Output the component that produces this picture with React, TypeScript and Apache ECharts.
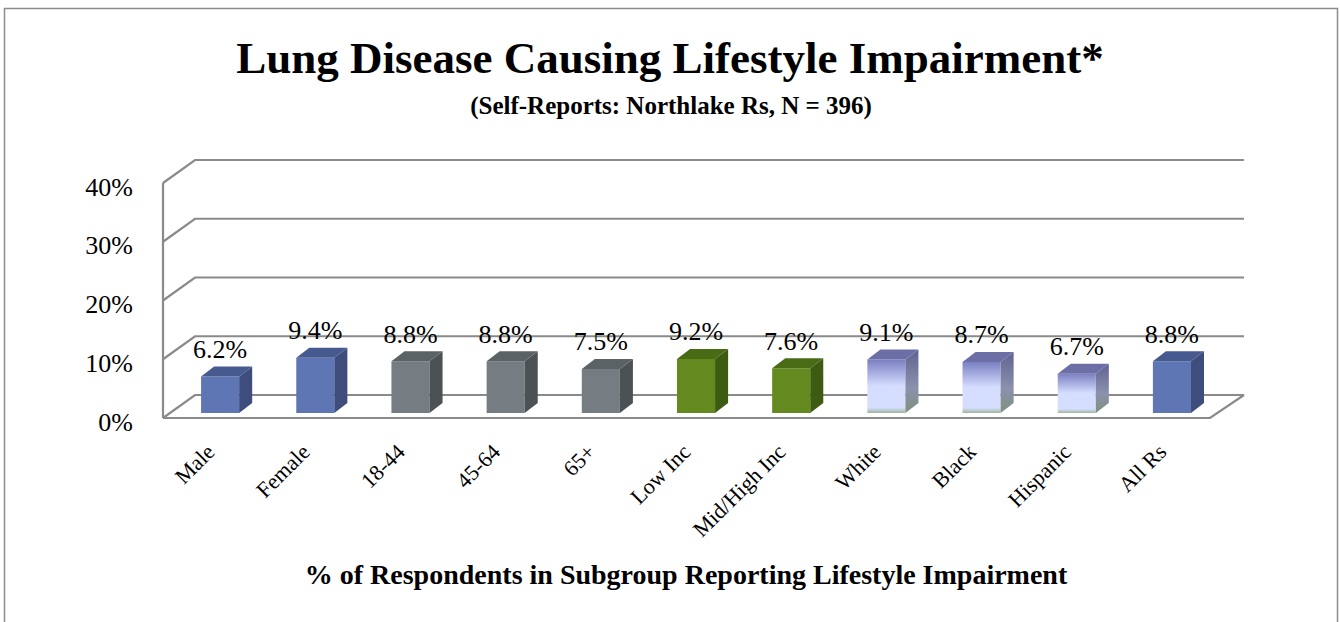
import React, { useEffect, useRef } from "react";
import * as echarts from "echarts";

const categories = ["Male", "Female", "18-44", "45-64", "65+", "Low Inc", "Mid/High Inc", "White", "Black", "Hispanic", "All Rs"];
const values = [6.2, 9.4, 8.8, 8.8, 7.5, 9.2, 7.6, 9.1, 8.7, 6.7, 8.8];
const groups = ["blue", "blue", "gray", "gray", "gray", "green", "green", "light", "light", "light", "blue"];
const yTicks = [0, 10, 20, 30, 40];

const titleText = "Lung Disease Causing Lifestyle Impairment*";
const subtitleText = "(Self-Reports: Northlake Rs, N = 396)";
const axisTitleText = "% of Respondents in Subgroup Reporting Lifestyle Impairment";

const FAMILY = "Liberation Serif";

const lightFront = {
  type: "linear", x: 0, y: 0, x2: 0, y2: 1,
  colorStops: [
    { offset: 0, color: "#7a7fc2" },
    { offset: 0.5, color: "#d6deff" },
    { offset: 0.9, color: "#d6deff" },
    { offset: 1, color: "#9fb59c" },
  ],
};
const lightSide = {
  type: "linear", x: 0, y: 0, x2: 0, y2: 1,
  colorStops: [
    { offset: 0, color: "#5f6291" },
    { offset: 0.6, color: "#8b91ad" },
    { offset: 1, color: "#7e917d" },
  ],
};

const palette: Record<string, { front: any; side: any; top: any }> = {
  blue: { front: "#5e76b4", side: "#3e4d7c", top: "#475a8f" },
  gray: { front: "#757d82", side: "#4c5254", top: "#5b6265" },
  green: { front: "#63891f", side: "#3e5b12", top: "#4a6b16" },
  light: { front: lightFront, side: lightSide, top: "#6c6ea6" },
};

const GRID_COLOR = "#8a8a8a";
const DEPTH_X = 32;
const DEPTH_Y = -23;

export default function App() {
  const ref = useRef<HTMLDivElement>(null);

  useEffect(() => {
    if (!ref.current) return;
    const chart = echarts.init(ref.current, null, { renderer: "svg" });

    const wallsRender = (params: any, api: any) => {
      const v = api.value(0);
      const cs = params.coordSys;
      const x0 = cs.x;
      const x1 = cs.x + cs.width;
      const y = api.coord([0, v])[1];
      const style = { stroke: GRID_COLOR, lineWidth: 2.2, fill: null };
      const children: any[] = [
        {
          type: "polyline",
          shape: { points: [[x0, y], [x0 + DEPTH_X, y + DEPTH_Y], [x1 + DEPTH_X + 2, y + DEPTH_Y]] },
          style,
        },
      ];
      if (v === 0) {
        children.push({
          type: "polyline",
          shape: { points: [[x0, y], [x1, y], [x1 + DEPTH_X + 2, y + DEPTH_Y]] },
          style,
        });
        children.push({
          type: "line",
          shape: { x1: x0, y1: y, x2: x0, y2: cs.y },
          style,
        });
      }
      return { type: "group", children };
    };

    const barsRender = (params: any, api: any) => {
      const idx = api.value(0);
      const v = api.value(1);
      const top = api.coord([idx, v]);
      const base = api.coord([idx, 0]);
      const bw = api.size([1, 0])[0];
      const left = top[0] - 0.1 * bw;
      const w = 0.4 * bw;
      const dx = 0.137 * bw;
      const dy = -10;
      const lift = 5;
      const yT = top[1] - lift;
      const yB = base[1] - lift;
      const c = palette[groups[idx]];
      return {
        type: "group",
        children: [
          { type: "rect", shape: { x: left, y: yT, width: w, height: yB - yT }, style: { fill: c.front } },
          {
            type: "polygon",
            shape: { points: [[left + w, yT], [left + w + dx, yT + dy], [left + w + dx, yB + dy], [left + w, yB]] },
            style: { fill: c.side },
          },
          {
            type: "polygon",
            shape: { points: [[left, yT], [left + w, yT], [left + w + dx, yT + dy], [left + dx, yT + dy]] },
            style: { fill: c.top },
          },
          {
            type: "text",
            x: left + w / 2,
            y: yT - 27,
            style: {
              text: v.toFixed(1) + "%",
              fontFamily: FAMILY,
              fontSize: 26,
              fontWeight: "normal",
              fill: "#000",
              align: "center",
              verticalAlign: "middle",
              textAlign: "center",
              textVerticalAlign: "middle",
            },
          },
        ],
      };
    };

    const textEl = (text: string, x: number, y: number, size: number, bold: boolean) => ({
      type: "text",
      x,
      y,
      style: {
        text,
        fontFamily: FAMILY,
        fontSize: size,
        fontWeight: bold ? "bold" : "normal",
        fill: "#000",
        align: "center",
        verticalAlign: "middle",
        textAlign: "center",
        textVerticalAlign: "middle",
      },
    });

    chart.setOption({
      animation: false,
      backgroundColor: "#fff",
      textStyle: { fontFamily: FAMILY },
      graphic: [
        {
          type: "rect",
          shape: { x: 4.5, y: 8.5, width: 1333, height: 630 },
          style: { fill: null, stroke: "#8c8c8c", lineWidth: 1.5 },
          silent: true,
        },
        textEl(titleText, 670, 58, 45, true),
        textEl(subtitleText, 671, 105, 25, true),
        textEl(axisTitleText, 686, 574, 28, true),
      ],
      grid: { left: 163, right: 130, top: 183, bottom: 204, containLabel: false },
      xAxis: {
        type: "category",
        data: categories,
        axisLine: { show: false },
        axisTick: { show: false },
        axisLabel: {
          rotate: 45,
          margin: 30,
          interval: 0,
          color: "#000",
          fontSize: 22,
          fontFamily: FAMILY,
        },
      },
      yAxis: {
        type: "value",
        min: 0,
        max: 40,
        interval: 10,
        axisLine: { show: false },
        axisTick: { show: false },
        splitLine: { show: false },
        axisLabel: {
          formatter: "{value}%",
          margin: 30,
          color: "#000",
          fontSize: 26,
          fontFamily: FAMILY,
          verticalAlign: "top",
          lineHeight: 8,
        },
      },
      series: [
        {
          type: "custom",
          clip: false,
          silent: true,
          z: 1,
          renderItem: wallsRender,
          data: yTicks.map((t) => [t]),
          encode: { y: 0 },
        },
        {
          type: "custom",
          clip: false,
          z: 2,
          renderItem: barsRender,
          data: values.map((v, i) => [i, v]),
          encode: { x: 0, y: 1 },
        },
      ],
    });

    return () => chart.dispose();
  }, []);

  return (
    <div
      ref={ref}
      style={{ position: "absolute", left: 0, top: 0, width: 1340, height: 622 }}
    />
  );
}
